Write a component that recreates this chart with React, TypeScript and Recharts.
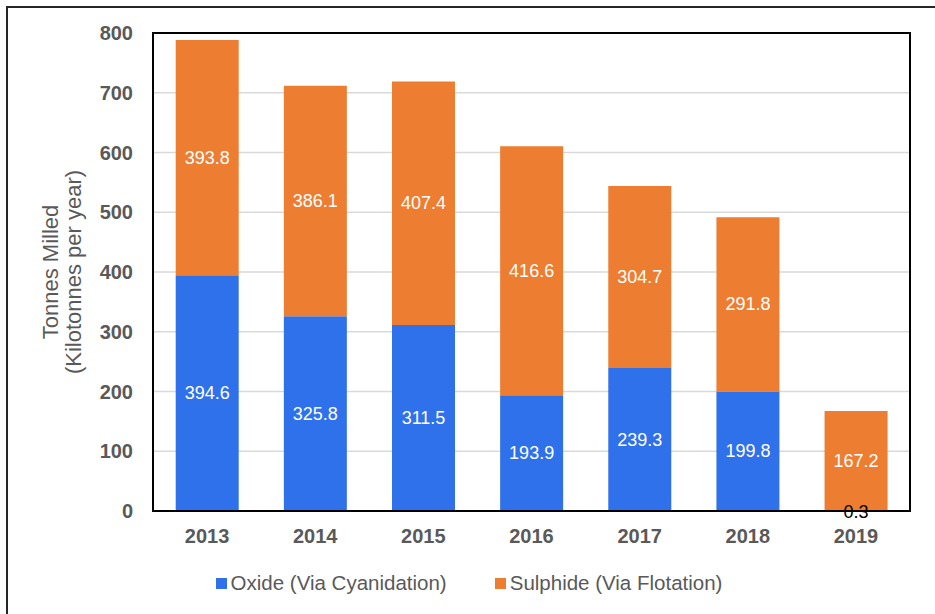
import { BarChart, Bar, XAxis, YAxis, CartesianGrid, Legend, LabelList, ReferenceArea } from 'recharts'

const years = ['2013', '2014', '2015', '2016', '2017', '2018', '2019']
const oxide = [394.6, 325.8, 311.5, 193.9, 239.3, 199.8, 0.3]
const sulphide = [393.8, 386.1, 407.4, 416.6, 304.7, 291.8, 167.2]
const yTicks = [0, 100, 200, 300, 400, 500, 600, 700, 800]

const data = years.map((year, i) => ({ year, oxide: oxide[i], sulphide: sulphide[i] }))

const BLUE = '#2F70EB'
const ORANGE = '#ED7D31'
const GREY = '#595959'
const FONT = "'Liberation Sans', Arial, sans-serif"

function SegmentLabel(props: any) {
    const { x, y, width, height, value } = props
    const small = value < 5
    return (
        <text
            x={x + width / 2}
            y={small ? y + height : y + height / 2}
            dy={small ? 1 : 0}
            textAnchor="middle"
            dominantBaseline="central"
            fill={small ? '#000' : '#fff'}
            fontSize={18}
            fontFamily={FONT}
        >
            {value}
        </text>
    )
}

function YTitle(props: any) {
    const { viewBox } = props
    const cx = 62
    const cy = viewBox.y + viewBox.height / 2
    return (
        <text
            transform={`rotate(-90 ${cx} ${cy})`}
            x={cx}
            y={cy}
            textAnchor="middle"
            fill={GREY}
            fontSize={22}
            fontFamily={FONT}
        >
            <tspan x={cx} dy={-4}>Tonnes Milled</tspan>
            <tspan x={cx} dy={23}>(Kilotonnes per year)</tspan>
        </text>
    )
}

function LegendContent({ payload }: any) {
    return (
        <div style={{ display: 'flex', justifyContent: 'center', gap: 48, height: 40, paddingTop: 22, boxSizing: 'border-box', paddingLeft: 28 }}>
            {payload.map((p: any) => (
                <div key={p.value} style={{ display: 'flex', alignItems: 'center', height: 20 }}>
                    <span style={{ width: 11, height: 11, background: p.color, marginRight: 4, display: 'inline-block' }} />
                    <span style={{ color: GREY, fontSize: 20.5, fontFamily: FONT }}>{p.value}</span>
                </div>
            ))}
        </div>
    )
}

export default function App() {
    return (
        <div style={{ position: 'absolute', left: 0, top: 0, width: 935, height: 614, overflow: 'hidden', background: '#fff' }}>
            <div style={{ position: 'absolute', left: 6, top: 6, width: 960, height: 640, border: '2px solid #262626' }} />
            <div style={{ position: 'absolute', left: 0, top: 0 }}>
                <BarChart
                    width={935}
                    height={614}
                    data={data}
                    margin={{ top: 33, right: 25, left: 0, bottom: 23 }}
                    barCategoryGap="21%"
                >
                    <CartesianGrid horizontal vertical={false} stroke="#d9d9d9" strokeWidth={1.5} />
                    <XAxis
                        dataKey="year"
                        height={40}
                        tickLine={false}
                        axisLine={{ stroke: '#000', strokeWidth: 2 }}
                        tick={{ fill: GREY, fontSize: 20, fontWeight: 'bold', fontFamily: FONT }}
                        tickSize={0}
                        tickMargin={18}
                    />
                    <YAxis
                        width={153}
                        domain={[0, 800]}
                        ticks={yTicks}
                        tickLine={false}
                        axisLine={{ stroke: '#000', strokeWidth: 2 }}
                        tick={{ fill: GREY, fontSize: 20, fontWeight: 'bold', fontFamily: FONT }}
                        tickSize={0}
                        tickMargin={20}
                        label={<YTitle />}
                    />
                    <Legend verticalAlign="bottom" content={<LegendContent />} />
                    <Bar dataKey="oxide" name="Oxide (Via Cyanidation)" stackId="a" fill={BLUE} isAnimationActive={false}>
                        <LabelList dataKey="oxide" content={<SegmentLabel />} />
                    </Bar>
                    <Bar dataKey="sulphide" name="Sulphide (Via Flotation)" stackId="a" fill={ORANGE} isAnimationActive={false}>
                        <LabelList dataKey="sulphide" content={<SegmentLabel />} />
                    </Bar>
                    <ReferenceArea y1={0} y2={800} fill="none" fillOpacity={0} stroke="#000" strokeWidth={2} ifOverflow="visible" />
                </BarChart>
            </div>
        </div>
    )
}
